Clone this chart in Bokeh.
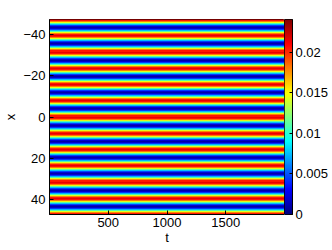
import numpy as np
from bokeh.plotting import figure
from bokeh.layouts import row
from bokeh.models import (Range1d, FixedTicker, LinearColorMapper,
                          CustomJSTickFormatter)
from bokeh.embed import file_html
from bokeh.resources import INLINE

# ---- data ----
t_start, t_end = 0, 2000
x_start, x_end = -15 * np.pi, 15 * np.pi
n_periods = 12
# one period of the (t-independent) stripe profile, starting at a red crest
profile = [0.0215, 0.0205, 0.0180, 0.0145, 0.0110, 0.0075, 0.0045, 0.0020,
           0.0010, 0.0020, 0.0045, 0.0075, 0.0110, 0.0145, 0.0180, 0.0205]
x_ticks = [500, 1000, 1500]
y_ticks = [-40, -20, 0, 20, 40]
cb_ticks = [0, 0.005, 0.01, 0.015, 0.02]
c_low, c_high = 0.0, 0.024

# build field
col = np.array(list(profile) * n_periods + [profile[0]])
field = np.tile(col[:, None], (1, 4))

# jet colormap
def jet(n=256):
    out = []
    for i in range(n):
        v = i / (n - 1)
        r = min(max(1.5 - abs(4 * v - 3), 0), 1)
        g = min(max(1.5 - abs(4 * v - 2), 0), 1)
        b = min(max(1.5 - abs(4 * v - 1), 0), 1)
        out.append("#%02x%02x%02x" % (int(r * 255), int(g * 255), int(b * 255)))
    return out

FONT = "Liberation Sans"
FS = "13px"

def style_axis(ax):
    ax.axis_label_text_font = FONT
    ax.axis_label_text_font_size = FS
    ax.axis_label_text_font_style = "normal"
    ax.major_label_text_font = FONT
    ax.major_label_text_font_size = FS
    ax.major_label_text_color = "black"
    ax.axis_label_text_color = "black"
    ax.major_tick_in = 4
    ax.major_tick_out = 0
    ax.minor_tick_line_color = None
    ax.axis_line_color = "black"
    ax.major_tick_line_color = "black"

TOP = 19
BOTTOM = 28

p = figure(frame_width=235, frame_height=195, output_backend="svg",
           toolbar_location=None,
           x_range=Range1d(t_start, t_end), y_range=Range1d(x_end, x_start),
           min_border_left=40, min_border_top=TOP, min_border_right=0,
           min_border_bottom=BOTTOM)
p.grid.visible = False
p.outline_line_color = "black"

mapper = LinearColorMapper(palette=jet(), low=c_low, high=c_high)
dy = (x_end - x_start) / (len(col) - 1)
p.image(image=[field], x=t_start, y=x_start - dy / 2, dw=t_end - t_start,
        dh=(x_end - x_start) + dy, color_mapper=mapper)

p.xaxis.ticker = FixedTicker(ticks=x_ticks)
p.yaxis.ticker = FixedTicker(ticks=y_ticks)
p.yaxis.major_label_overrides = {-40: "\u221240", -20: "\u221220"}
p.xaxis.axis_label = "t"
p.yaxis.axis_label = "x"
style_axis(p.xaxis)
style_axis(p.yaxis)
p.xaxis.major_label_standoff = 3
p.xaxis.axis_label_standoff = 0
p.yaxis.major_label_standoff = 4
p.yaxis.axis_label_standoff = 2
p.yaxis.major_label_orientation = "horizontal"

# colour bar as its own small figure
cb = figure(frame_width=8, frame_height=195, output_backend="svg",
            toolbar_location=None, x_range=Range1d(0, 1),
            y_range=Range1d(c_low, c_high), x_axis_location=None,
            y_axis_location="right",
            min_border_left=0, min_border_top=TOP, min_border_right=0,
            min_border_bottom=BOTTOM)
cb.grid.visible = False
cb.outline_line_color = "black"
grad = np.linspace(c_low, c_high, 256)[:, None]
cb.image(image=[grad], x=0, y=c_low, dw=1, dh=c_high - c_low,
         color_mapper=mapper)
cb.yaxis.ticker = FixedTicker(ticks=cb_ticks)
cb.yaxis.formatter = CustomJSTickFormatter(code="return String(tick);")
style_axis(cb.yaxis)
cb.yaxis.major_tick_in = 3
cb.yaxis.major_label_standoff = 3

layout = row(p, cb, spacing=0)
open("out.html", "w").write(file_html(layout, INLINE))
